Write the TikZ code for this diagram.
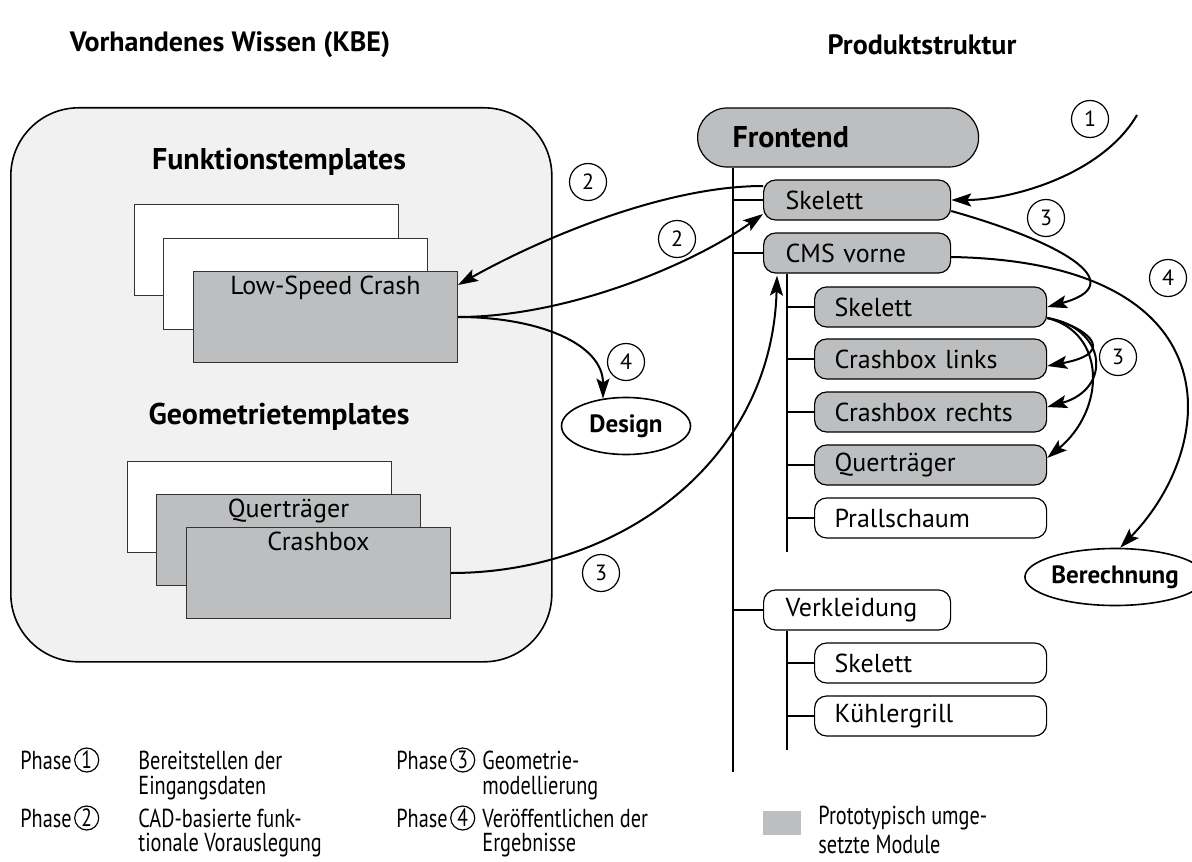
\documentclass[tikz,border=0pt]{standalone}
\usepackage{fontspec}
\setmainfont{PT Sans}
\newfontfamily\schmal[FakeStretch=0.78]{PT Sans}
\usepackage{tikz}
\usetikzlibrary{shapes,arrows,arrows.meta,positioning,calc}

\definecolor{modulgrau}{RGB}{188,190,192}
\definecolor{wissengrau}{RGB}{241,241,242}

\begin{document}
\begin{tikzpicture}[
        x=0.5pt, y=-0.5pt,
        titel/.style={font=\fontsize{14}{17}\selectfont\bfseries},
        kopf/.style={font=\fontsize{15}{18}\selectfont\bfseries},
        modul/.style={draw, line width=0.6pt, rounded corners=6pt, anchor=west, minimum height=20pt, inner xsep=11pt, align=left, font=\fontsize{13}{15}\selectfont},
        haupt/.style={modul, text width=71.5pt},
        unter/.style={modul, text width=96pt, inner xsep=10pt},
        aktiv/.style={fill=modulgrau},
        vorlage/.style={draw=black!80, line width=0.5pt, anchor=north west, minimum width=132pt, minimum height=45.5pt},
        vtext/.style={anchor=north, inner sep=2.5pt, font=\fontsize{13}{15}\selectfont},
        ergebnis/.style={ellipse, draw, line width=0.8pt, fill=white, minimum width=64.5pt, minimum height=28.5pt, inner sep=0pt, font=\fontsize{12.5}{14}\selectfont\bfseries},
        phase/.style={circle, draw, line width=0.6pt, minimum size=18.5pt, inner sep=0pt, font=\fontsize{11}{13}\selectfont},
        lphase/.style={phase, minimum size=12pt, font=\fontsize{12.5}{14}\schmal},
        baum/.style={line width=1pt},
        arrow/.style={draw, -{Stealth[length=10pt,width=6.5pt,inset=2pt]}, line width=1pt},
        legende/.style={anchor=west, inner sep=0pt, font=\fontsize{13}{15}\schmal}
    ]
    \useasboundingbox (0,0) rectangle (1192,861);

    % Ueberschriften
    \node[titel] (kbe) at (230,45) {Vorhandenes Wissen (KBE)};
    \node[titel] (produkt) at (922,45) {Produktstruktur};

    % vorhandenes Wissen
    \node[draw, fill=wissengrau, rounded corners=34pt, line width=0.8pt, anchor=north west,
          minimum width=270.5pt, minimum height=277pt] (wissen) at (10,107) {};
    \node[kopf] (funktion) at (279,162) {Funktionstemplates};
    \node[vorlage, fill=white] (ft1) at (134,204) {};
    \node[vorlage, fill=white] (ft2) at (163,238) {};
    \node[vorlage, aktiv, label={[vtext]north:Low-Speed Crash}] (ft3) at (193,271) {};
    \node[kopf] (geometrie) at (279,417) {Geometrietemplates};
    \node[vorlage, fill=white] (gt1) at (127,461) {};
    \node[vorlage, aktiv, label={[vtext]north:Querträger}] (gt2) at (156,494) {};
    \node[vorlage, aktiv, label={[vtext]north:Crashbox}] (gt3) at (186,527) {};

    % Produktstruktur
    \node[modul, aktiv, kopf, text width=105.5pt, inner xsep=17.5pt, minimum height=29.5pt,
          rounded corners=14.7pt] (frontend) at (697,137.5) {Frontend};
    \node[haupt, aktiv] (skel1) at (763,200) {Skelett};
    \node[haupt, aktiv] (cms) at (763,253) {CMS vorne};
    \node[unter, aktiv] (skel2) at (814,307) {Skelett};
    \node[unter, aktiv] (cbl) at (814,359) {Crashbox links};
    \node[unter, aktiv] (cbr) at (814,412) {Crashbox rechts};
    \node[unter, aktiv] (quer) at (814,465) {Querträger};
    \node[unter] (prall) at (814,518) {Prallschaum};
    \node[haupt] (verk) at (763,610) {Verkleidung};
    \node[unter] (skel3) at (814,663) {Skelett};
    \node[unter] (kuehl) at (814,716) {Kühlergrill};

    \coordinate (stamm) at (733,772);
    \coordinate (cmsast) at (787,552);
    \coordinate (verkast) at (787,750);
    \draw[baum] (stamm |- frontend.south) -- (stamm);
    \foreach \m in {skel1,cms,verk} \draw[baum] (stamm |- \m) -- (\m.west);
    \draw[baum] (cmsast |- cms.south) -- (cmsast);
    \foreach \m in {skel2,cbl,cbr,quer,prall} \draw[baum] (cmsast |- \m) -- (\m.west);
    \draw[baum] (verkast |- verk.south) -- (verkast);
    \foreach \m in {skel3,kuehl} \draw[baum] (verkast |- \m) -- (\m.west);

    % Ergebnisse
    \node[ergebnis] (design) at (626,426) {Design};
    \node[ergebnis, minimum width=77pt] (berechnung) at (1115,577) {Berechnung};

    % Phasen
    \node[phase] (p1) at (1090,119) {1};
    \node[phase] (p2a) at (588,182) {2};
    \node[phase] (p2b) at (677,239) {2};
    \node[phase] (p3a) at (1046,218) {3};
    \node[phase] (p3b) at (1118,357) {3};
    \node[phase] (p3c) at (601,573) {3};
    \node[phase] (p4a) at (1168,278) {4};
    \node[phase] (p4b) at (626,362) {4};

    % Datenfluss
    \coordinate (eingang) at (1137,115);
    \path[arrow] (eingang) .. controls +(-35,60) and +(60,0) .. (skel1.east);
    \path[arrow] ([yshift=7pt]skel1.west) .. controls +(-100,0) and +(80,-45) .. ([yshift=-7pt]ft3.north east);
    \path[arrow] (ft3.east) .. controls +(110,0) and +(-70,50) .. ([yshift=-7pt]skel1.west);
    \path[arrow] (ft3.east) .. controls +(80,0) and +(0,-55) .. (design.130);
    \path[arrow] (gt3.east) .. controls +(170,0) and +(-5,185) .. ([xshift=7pt,yshift=-1pt]cms.south west);
    \path[arrow] ([yshift=-5.5pt]skel1.east) .. controls +(120,34) and +(82,-22) .. (skel2.east);
    \path[arrow] ([yshift=-5.5pt]skel2.east) .. controls +(35,7) and +(75,-14) .. ([yshift=-3.5pt]cbl.east);
    \path[arrow] ([yshift=-5.5pt]skel2.east) .. controls +(60,10) and +(65,-18) .. ([yshift=2.5pt]cbr.east);
    \path[arrow] ([yshift=-5.5pt]skel2.east) .. controls +(60,15) and +(58,-48) .. ([yshift=3.5pt]quer.east);
    \path[arrow] ([yshift=-2pt]cms.east) .. controls +(285,5) and +(99,-102) .. (berechnung.80);

    % Legende
    \node[legende] (ph1) at (20,760) {Phase};
    \node[lphase, right=1pt of ph1] (l1) {1};
    \node[legende] (t1a) at (138,760) {Bereitstellen der};
    \node[legende] (t1b) at (138,788) {Eingangsdaten};
    \node[legende] (ph2) at (20,818) {Phase};
    \node[lphase, right=1pt of ph2] (l2) {2};
    \node[legende] (t2a) at (138,818) {CAD-basierte funk-};
    \node[legende] (t2b) at (138,845) {tionale Vorauslegung};
    \node[legende] (ph3) at (396,760) {Phase};
    \node[lphase, right=1pt of ph3] (l3) {3};
    \node[legende] (t3a) at (482,760) {Geometrie-};
    \node[legende] (t3b) at (482,788) {modellierung};
    \node[legende] (ph4) at (396,818) {Phase};
    \node[lphase, right=1pt of ph4] (l4) {4};
    \node[legende] (t4a) at (482,818) {Veröffentlichen der};
    \node[legende] (t4b) at (482,845) {Ergebnisse};
    \node[fill=modulgrau, minimum width=19pt, minimum height=12pt, inner sep=0pt] (muster) at (782,823) {};
    \node[legende] (t5a) at (818,818) {Prototypisch umge-};
    \node[legende] (t5b) at (818,845) {setzte Module};

\end{tikzpicture}
\end{document}
